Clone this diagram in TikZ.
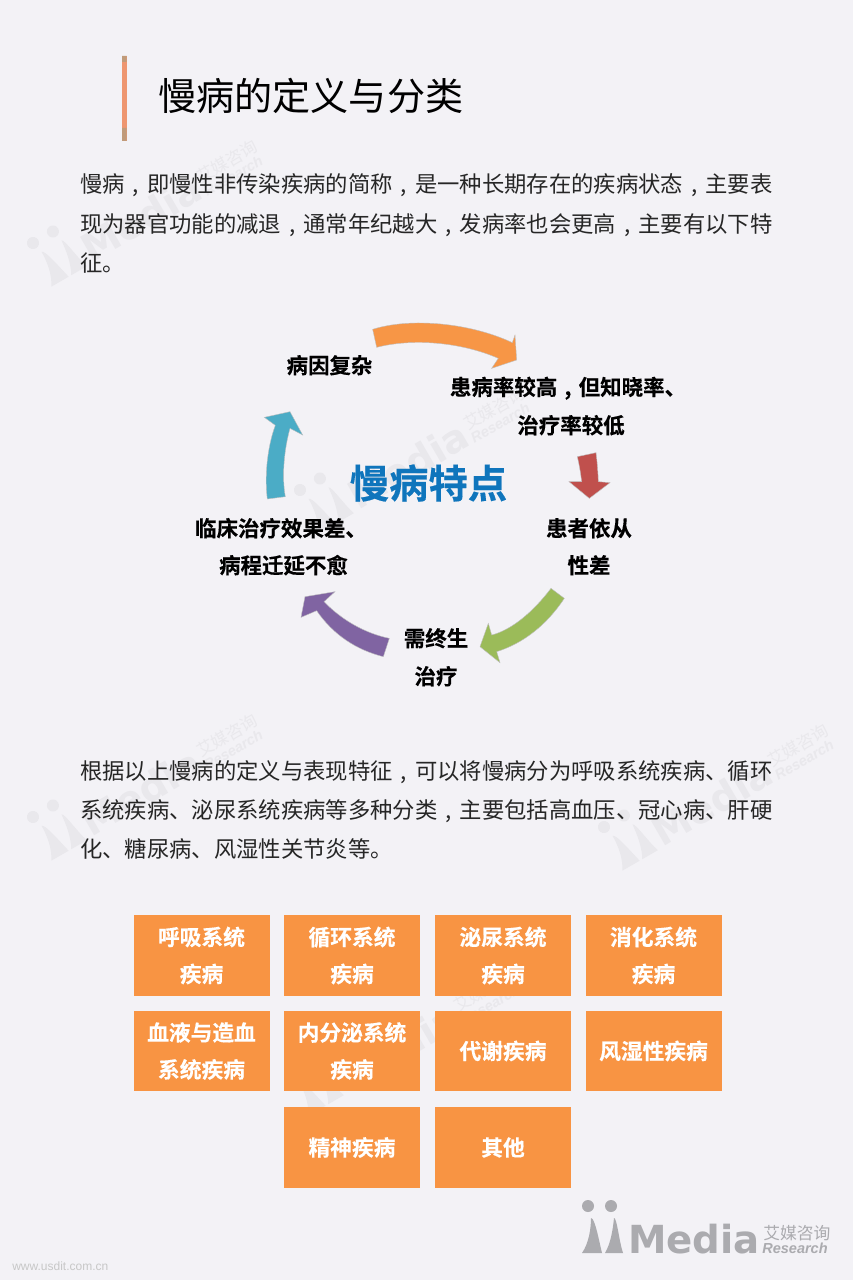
\documentclass[tikz,border=0pt]{standalone}
\usepackage{fontspec}
\setmainfont{Noto Sans CJK SC}
\newfontfamily\fatfont[FakeBold=0.35]{Noto Sans CJK SC Bold}
\newfontfamily\latinlogo{Liberation Sans}
\newfontfamily\mediafont{DejaVu Sans}
\newcommand{\cm}{\hbox to 1em{\hss,\hss}}
\definecolor{bgc}{HTML}{F3F2F6}
\definecolor{orangeb}{HTML}{F79646}
\definecolor{boxo}{HTML}{F89443}
\definecolor{redb}{HTML}{C0504D}
\definecolor{greenb}{HTML}{9BBB59}
\definecolor{purpleb}{HTML}{8064A2}
\definecolor{tealb}{HTML}{4BACC6}
\definecolor{bluet}{HTML}{0F75BC}
\definecolor{logog}{HTML}{ABABAF}
\definecolor{wmg}{HTML}{E9E8EC}
\definecolor{barc}{HTML}{EE9670}
\definecolor{bare}{HTML}{C09B7A}
\tikzset{
 bodyline/.style={anchor=base west,inner sep=0pt,font=\fontsize{16.75}{16.75}\selectfont,text=black!85},
 label/.style={anchor=center,inner sep=0pt,yshift=0.6pt,font=\fontsize{16.1}{16.1}\selectfont\fatfont,text=black},
 catbox/.style={fill=boxo,draw=none,minimum width=102pt,minimum height=60.5pt,inner sep=0pt,align=center,text=white,font=\fontsize{16.3}{27.75}\selectfont\fatfont},
 arrowshape/.style={draw=black!25,line width=0.3pt},
}
\newcommand{\logomark}[1]{%
 \fill[#1] (0,0) circle (6) (23,0) circle (6);
 \fill[#1] (-6,47) .. controls (1,37) and (3,22) .. (3,12) .. controls (7,12) and (11,35) .. (14,47) -- cycle;
 \fill[#1] (17,47) .. controls (23,37) and (25,22) .. (26,12) .. controls (29,12) and (31,35) .. (35,47) -- cycle;
}
\newcommand{\wmark}[3]{%
 \begin{scope}[shift={(#1,#2)},rotate=#3,transform shape]
  \logomark{wmg}
  \node[anchor=base west,inner sep=0pt,text=wmg] (wm#1x#2) at (40,47) {\fontsize{29}{29}\selectfont\mediafont\bfseries Media};
  \node[anchor=base west,inner sep=0pt,text=wmg] (wn#1x#2) at (175,33) {\fontsize{12.6}{12.6}\selectfont 艾媒咨询};
  \node[anchor=base west,inner sep=0pt,text=wmg] (wr#1x#2) at (174,47) {\fontsize{10.9}{10.9}\selectfont\latinlogo\itshape\bfseries Research};
 \end{scope}}
\begin{document}
\begin{tikzpicture}[x=0.75pt,y=-0.75pt]
\useasboundingbox (0,0) rectangle (853,1280);
\fill[bgc] (0,0) rectangle (853,1280);
% watermarks
\wmark{33}{243}{30}
\wmark{300}{490}{30}
\wmark{33}{817}{30}
\wmark{604}{827}{30}
\wmark{290}{1072}{30}
% title
\fill[barc] (122,56) rectangle (126.5,141);
\fill[bare] (122,56) rectangle (126.5,62) (122,128) rectangle (126.5,141);
\node[anchor=base west,inner sep=0pt,font=\fontsize{28.6}{28.6}\selectfont] (title) at (158,111) {慢病的定义与分类};
% body
\node[bodyline] (p1a) at (80,193) {慢病\cm 即慢性非传染疾病的简称\cm 是一种长期存在的疾病状态\cm 主要表};
\node[bodyline] (p1b) at (80,233) {现为器官功能的减退\cm 通常年纪越大\cm 发病率也会更高\cm 主要有以下特};
\node[bodyline] (p1c) at (80,272) {征。};
\node[bodyline] (p2a) at (80,779) {根据以上慢病的定义与表现特征\cm 可以将慢病分为呼吸系统疾病、循环};
\node[bodyline] (p2b) at (80,818) {系统疾病、泌尿系统疾病等多种分类\cm 主要包括高血压、冠心病、肝硬};
\node[bodyline] (p2c) at (80,857) {化、糖尿病、风湿性关节炎等。};
% cycle arrows
\begin{scope}[shift={(170,300)},x=0.25pt,y=-0.25pt]
\fill[orangeb,arrowshape] (608,88) .. controls (720,52) and (900,68) .. (1027,128) -- (1035,105) -- (1040,180) -- (965,205) -- (985,175) .. controls (870,125) and (725,115) .. (620,142) -- cycle;
\fill[redb,arrowshape] (1222,470) -- (1278,458) .. controls (1282,490) and (1284,520) .. (1285,545) -- (1320,548) -- (1258,595) -- (1197,545) -- (1235,545) .. controls (1232,520) and (1228,495) .. (1222,470) -- cycle;
\fill[greenb,arrowshape] (1143,865) -- (1183,895) .. controls (1130,975) and (1060,1030) .. (980,1055) -- (990,1088) -- (930,1040) -- (955,970) -- (965,1005) .. controls (1025,990) and (1090,935) .. (1143,865) -- cycle;
\fill[purpleb,arrowshape] (658,1015) -- (640,1070) .. controls (560,1050) and (490,1005) .. (440,932) -- (393,952) -- (405,890) -- (495,875) -- (462,905) .. controls (515,960) and (585,1000) .. (658,1015) -- cycle;
\fill[tealb,arrowshape] (292,597) .. controls (283,530) and (292,440) .. (316,376) -- (283,352) -- (360,335) -- (398,405) -- (360,385) .. controls (342,450) and (335,530) .. (346,590) -- cycle;
\end{scope}
% cycle labels
\node[inner sep=0pt,text=bluet,font=\fontsize{29.5}{29.5}\selectfont\fatfont] (center) at (428.5,483) {慢病特点};
\node[label] (a) at (329.5,366) {病因复杂};
\node[label] (b1) at (568,389) {患病率较高\cm 但知晓率、};
\node[label] (b2) at (571,426) {治疗率较低};
\node[label] (c1) at (589,529) {患者依从};
\node[label] (c2) at (589,566) {性差};
\node[label] (d1) at (436,639) {需终生};
\node[label] (d2) at (436,677) {治疗};
\node[label] (e1) at (281,529) {临床治疗效果差、};
\node[label] (e2) at (283.5,566) {病程迁延不愈};
% category boxes
\node[catbox] (k1) at (201.5,955.5) {呼吸系统\\疾病};
\node[catbox] (k2) at (352,955.5) {循环系统\\疾病};
\node[catbox] (k3) at (503,955.5) {泌尿系统\\疾病};
\node[catbox] (k4) at (653.5,955.5) {消化系统\\疾病};
\node[catbox] (k5) at (201.5,1051) {血液与造血\\系统疾病};
\node[catbox] (k6) at (352,1051) {内分泌系统\\疾病};
\node[catbox] (k7) at (503,1051) {代谢疾病};
\node[catbox] (k8) at (653.5,1051) {风湿性疾病};
\node[catbox] (k9) at (352,1147.5) {精神疾病};
\node[catbox] (k10) at (503,1147.5) {其他};
% logo
\begin{scope}[shift={(588,1206)}]
\logomark{logog}
\node[anchor=base west,inner sep=0pt,text=logog] (lm) at (40,47) {\fontsize{29}{29}\selectfont\mediafont\bfseries Media};
\node[anchor=base west,inner sep=0pt,text=logog] (ln) at (175,33) {\fontsize{12.6}{12.6}\selectfont 艾媒咨询};
\node[anchor=base west,inner sep=0pt,text=logog] (lr) at (174,47) {\fontsize{10.9}{10.9}\selectfont\latinlogo\itshape\bfseries Research};
\end{scope}
\node[anchor=base west,inner sep=0pt,text=black!22,font=\fontsize{9}{9}\selectfont\latinlogo] (www) at (12,1270) {www.usdit.com.cn};
\end{tikzpicture}
\end{document}
